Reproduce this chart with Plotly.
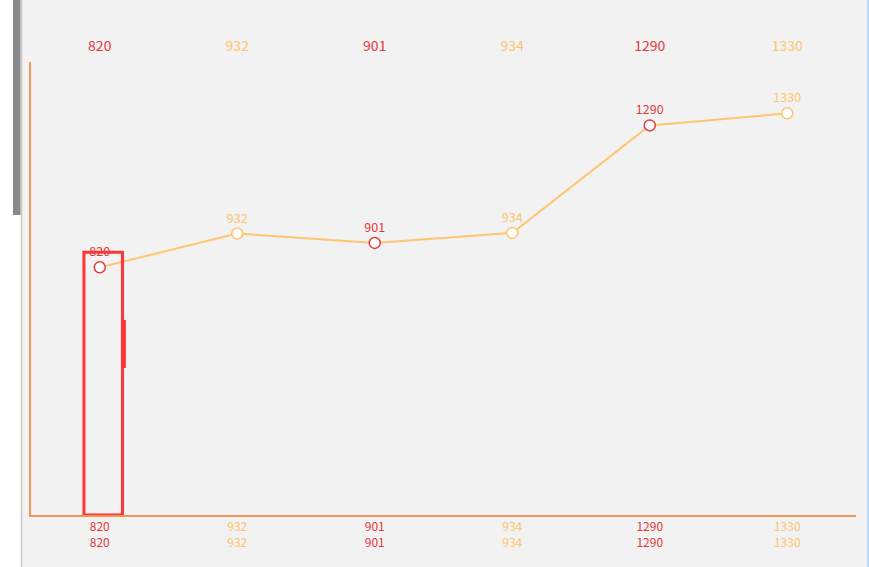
import plotly.graph_objects as go

# values
categories = ["820", "932", "901", "934", "1290", "1330"]
values = [820, 932, 901, 934, 1290, 1330]
point_colors = ["#e4393c", "#ffc46e", "#e4393c", "#ffc46e", "#e4393c", "#ffc46e"]

W, H = 869, 567
L, R, T, B = 31, 13, 62, 52
PW = W - L - R

def px_x(p):
    # pixel -> paper x
    return (p - L) / PW

bottom_text = [
    "<span style='color:%s'>%s</span><br><span style='color:%s'>%s</span>" % (c, k, c, k)
    for k, c in zip(categories, point_colors)
]
top_text = ["<span style='color:%s'>%s</span>" % (c, k) for k, c in zip(categories, point_colors)]

fig = go.Figure()
fig.add_trace(go.Scatter(
    x=categories, y=values,
    mode="lines+markers+text",
    line=dict(color="#ffc46e", width=2),
    marker=dict(size=11, color="white", line=dict(color=point_colors, width=1.5)),
    text=[str(v) for v in values],
    textposition="top center",
    textfont=dict(color=point_colors, size=12.5),
    hoverinfo="skip",
    showlegend=False,
))
# invisible trace to drive the top axis
fig.add_trace(go.Scatter(x=categories, y=values, xaxis="x2", mode="markers",
                         marker=dict(opacity=0), hoverinfo="skip", showlegend=False))

# highlight box around the first point, dotted guide and small red tab
fig.add_shape(type="line", xref="x", yref="y", x0=categories[0], x1=categories[0],
              y0=0, y1=values[0], line=dict(color="black", width=1, dash="dot"))
fig.add_shape(type="rect", xref="x", yref="y", x0=-0.115, x1=0.165, y0=0, y1=values[0] + 50,
              line=dict(color="#ff3434", width=3))
fig.add_shape(type="rect", xref="x", yref="y", x0=0.168, x1=0.19, y0=487, y1=646,
              line=dict(width=0), fillcolor="#ff3434")

# page chrome: white strip, scrollbar, right edge
fig.add_shape(type="rect", xref="paper", yref="paper", x0=px_x(0), x1=px_x(21.5), y0=-1, y1=2,
              line=dict(width=0), fillcolor="white", layer="below")
fig.add_shape(type="line", xref="paper", yref="paper", x0=px_x(21.5), x1=px_x(21.5), y0=-1, y1=2,
              line=dict(color="#c8c8c8", width=1.5))
fig.add_shape(type="rect", xref="paper", yref="paper", x0=px_x(13), x1=px_x(20.5),
              y0=(H - B - 215) / (H - T - B), y1=2,
              line=dict(width=0), fillcolor="#888888")
fig.add_shape(type="rect", xref="paper", yref="paper", x0=px_x(867), x1=px_x(870), y0=-1, y1=2,
              line=dict(width=0), fillcolor="#b7d8f5", layer="below")

fig.update_layout(
    width=W, height=H,
    margin=dict(l=L, r=R, t=T, b=B),
    paper_bgcolor="#f2f2f2", plot_bgcolor="#f2f2f2",
    font=dict(family="Noto Sans CJK SC, Noto Sans, sans-serif", size=12),
    xaxis=dict(
        type="category", range=[-0.5, 5.5],
        showline=True, linecolor="#f0955c", linewidth=1.5,
        showgrid=False, zeroline=False, ticks="",
        tickmode="array", tickvals=categories, ticktext=bottom_text,
        tickfont=dict(size=12),
    ),
    xaxis2=dict(
        type="category", range=[-0.5, 5.5], overlaying="x", side="top",
        showline=False, showgrid=False, zeroline=False, ticks="",
        tickmode="array", tickvals=categories, ticktext=top_text,
        tickfont=dict(size=14), ticklabelstandoff=7,
    ),
    yaxis=dict(
        range=[0, 1500], showline=True, linecolor="#f0955c", linewidth=1.5,
        showgrid=False, zeroline=False, showticklabels=False, ticks="",
    ),
)

fig.write_html("out.html", config={"displayModeBar": False},
               post_script="document.body.style.margin='0';")
